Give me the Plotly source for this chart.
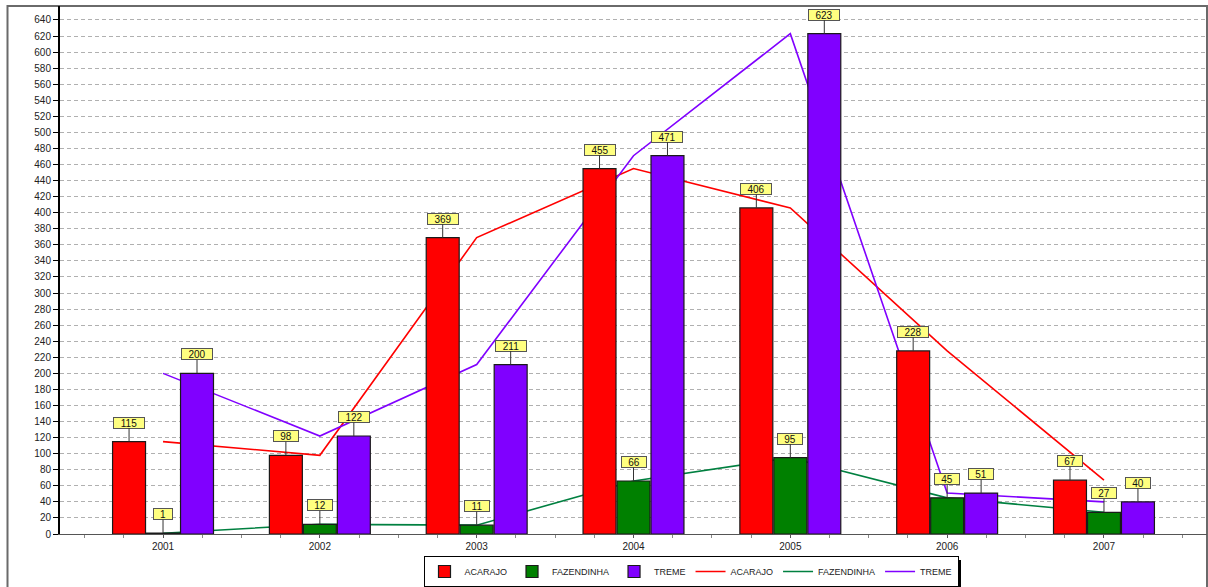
import plotly.graph_objects as go

# ---- data ----
years = ["2001", "2002", "2003", "2004", "2005", "2006", "2007"]
acarajo = [115, 98, 369, 455, 406, 228, 67]
fazendinha = [1, 12, 11, 66, 95, 45, 27]
treme = [200, 122, 211, 471, 623, 51, 40]

series_names = ["ACARAJO", "FAZENDINHA", "TREME"]
series_vals = [acarajo, fazendinha, treme]
bar_colors = ["#ff0000", "#008000", "#8000ff"]
line_colors = ["#ff0000", "#008040", "#8000ff"]

# ---- geometry ----
W, H = 1208, 587
ML, MR, MT, MB = 60, 1, 6, 53
PW, PH = W - ML - MR, H - MT - MB
BARGAP = 0.35
GROUPGAP = 0.03
slot = (1 - BARGAP) / len(series_names)
XMIN, XMAX = -0.657, len(years) - 1 + 0.657
YMAX = 657.4


def px_x(p):
    return (p - ML) / PW


def px_y(p):
    return (MT + PH - p) / PH


xpos = list(range(len(years)))

fig = go.Figure()
for name, vals, bc in zip(series_names, series_vals, bar_colors):
    fig.add_trace(go.Bar(
        x=xpos, y=vals, name=name, xaxis="x2", yaxis="y2",
        marker=dict(color=bc, line=dict(color="#1a1a1a", width=1.2)),
        hoverinfo="skip",
    ))
for name, vals, lc in zip(series_names, series_vals, line_colors):
    fig.add_trace(go.Scatter(
        x=xpos, y=vals, name=name, mode="lines",
        line=dict(color=lc, width=1.6), hoverinfo="skip",
    ))

# value labels
for k, vals in enumerate(series_vals):
    off = (k - (len(series_vals) - 1) / 2) * slot
    for i, v in enumerate(vals):
        s = str(v)
        fig.add_annotation(
            x=i + off, y=v, xref="x", yref="y", text=s,
            showarrow=True, arrowhead=0, arrowwidth=1, arrowcolor="#333333",
            ax=0, ay=-19, standoff=0,
            bgcolor="#ffff80", bordercolor="#555555", borderwidth=1, borderpad=0,
            width=12 + 6 * len(s), height=10,
            font=dict(family="Liberation Sans, Arial", size=10, color="#111111"),
        )

# outer frame
fig.add_shape(
    type="rect", xref="paper", yref="paper",
    x0=px_x(7.5), x1=1.0, y0=px_y(H + 20), y1=1.0,
    line=dict(color="#6a6a6a", width=2), fillcolor="rgba(0,0,0,0)", layer="below",
)

# legend drop shadow
LEG_L, LEG_R, LEG_T, LEG_B = 424, 958, 556, 585
fig.add_shape(
    type="rect", xref="paper", yref="paper",
    x0=px_x(LEG_L + 4), x1=px_x(LEG_R + 3), y0=px_y(LEG_B + 2), y1=px_y(LEG_T + 4),
    line=dict(width=0), fillcolor="#000000", layer="above",
)

axis_font = dict(family="Liberation Sans, Arial", size=10, color="#222222")

fig.update_layout(
    width=W, height=H,
    margin=dict(l=ML, r=MR, t=MT, b=MB, pad=0, autoexpand=False),
    paper_bgcolor="white", plot_bgcolor="white",
    barmode="group", bargap=BARGAP, bargroupgap=GROUPGAP,
    font=dict(family="Liberation Sans, Arial", size=10, color="#222222"),
    showlegend=True,
    legend=dict(
        orientation="h", x=px_x((LEG_L + LEG_R) / 2), xanchor="center",
        y=px_y(LEG_T), yanchor="top",
        bgcolor="white", bordercolor="#000000", borderwidth=1,
        font=dict(family="Liberation Sans, Arial", size=9, color="#222222"),
        itemwidth=30, tracegroupgap=0,
    ),
    xaxis=dict(
        range=[XMIN, XMAX], tickmode="array", tickvals=xpos, ticktext=years,
        showgrid=False, zeroline=False, showline=True, linecolor="#555555", linewidth=1,
        ticks="outside", ticklen=3, tickcolor="#555555", tickfont=axis_font,
        minor=dict(ticks="outside", ticklen=3, tickmode="linear", tick0=0, dtick=0.25,
                   tickcolor="#888888", showgrid=False),
    ),
    yaxis=dict(
        range=[0, YMAX], tickmode="linear", tick0=0, dtick=20,
        showgrid=True, gridcolor="#b0b0b0", griddash="4px,3px", gridwidth=1,
        zeroline=False, showline=True, linecolor="#000000", linewidth=2,
        ticks="outside", ticklen=5, tickcolor="#000000", tickfont=axis_font,
    ),
    xaxis2=dict(range=[XMIN, XMAX], overlaying="x", visible=False),
    yaxis2=dict(range=[0, YMAX], overlaying="y", visible=False),
)

fig.write_html("out.html")
